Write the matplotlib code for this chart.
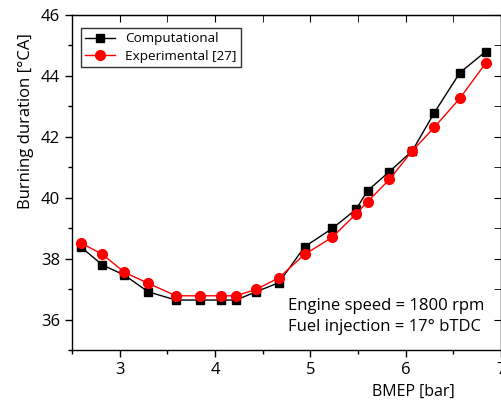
import numpy as np
import matplotlib
matplotlib.use("Agg")
import matplotlib.pyplot as plt
from matplotlib.ticker import MultipleLocator

# data
bmep = [2.59, 2.82, 3.05, 3.30, 3.59, 3.84, 4.06, 4.22, 4.43, 4.67,
        4.94, 5.23, 5.48, 5.60, 5.83, 6.07, 6.30, 6.57, 6.84]
computational = [38.39, 37.79, 37.46, 36.91, 36.64, 36.64, 36.64, 36.64, 36.91, 37.21,
                 38.39, 38.99, 39.62, 40.23, 40.86, 41.54, 42.79, 44.11, 44.80]
experimental = [38.52, 38.14, 37.55, 37.19, 36.78, 36.78, 36.78, 36.78, 36.99, 37.37,
                38.14, 38.70, 39.47, 39.87, 40.60, 41.54, 42.31, 43.27, 44.42]

plt.rcParams['font.family'] = ['Open Sans', 'DejaVu Sans']

fig = plt.figure(figsize=(5.02, 4.03), dpi=100)
ax = fig.add_axes([0.1434, 0.1315, 0.8546, 0.8313])

ax.plot(bmep, computational, color='black', lw=1, marker='s', ms=6,
        label='Computational')
ax.plot(bmep, experimental, color='red', lw=1, marker='o', ms=7,
        label='Experimental [27]')

ax.set_xlim(2.5, 7)
ax.set_ylim(35, 46)
ax.xaxis.set_major_locator(MultipleLocator(1))
ax.xaxis.set_minor_locator(MultipleLocator(0.5))
ax.yaxis.set_major_locator(MultipleLocator(2))
ax.yaxis.set_minor_locator(MultipleLocator(1))
ax.tick_params(which='major', direction='out', length=5, width=1, labelsize=12)
ax.tick_params(which='minor', direction='out', length=3, width=1)
for s in ax.spines.values():
    s.set_linewidth(1)

# mirrored ticks pointing inward on top and right
top = ax.secondary_xaxis('top')
top.xaxis.set_major_locator(MultipleLocator(1))
top.xaxis.set_minor_locator(MultipleLocator(0.5))
top.tick_params(which='both', direction='in', length=5, labeltop=False)
right = ax.secondary_yaxis('right')
right.yaxis.set_major_locator(MultipleLocator(2))
right.yaxis.set_minor_locator(MultipleLocator(1))
right.tick_params(which='both', direction='in', length=5, labelright=False)

ax.set_ylabel('Burning duration [°CA]', fontsize=12)
ax.yaxis.set_label_coords(-0.089, 0.684)
ax.set_xlabel('BMEP [bar]', fontsize=11.5)
ax.xaxis.set_label_coords(0.795, -0.1)

leg = ax.legend(loc='upper left', fontsize=9.7, frameon=True, fancybox=False,
                edgecolor='black', borderpad=0.3, handlelength=2.2,
                labelspacing=0.35, bbox_to_anchor=(0.005, 0.98))
leg.get_frame().set_linewidth(1)

ax.text(0.503, 0.058, 'Engine speed = 1800 rpm\nFuel injection = 17° bTDC',
        transform=ax.transAxes, fontsize=12, linespacing=1.35)

fig.savefig('out.png', dpi=100)
